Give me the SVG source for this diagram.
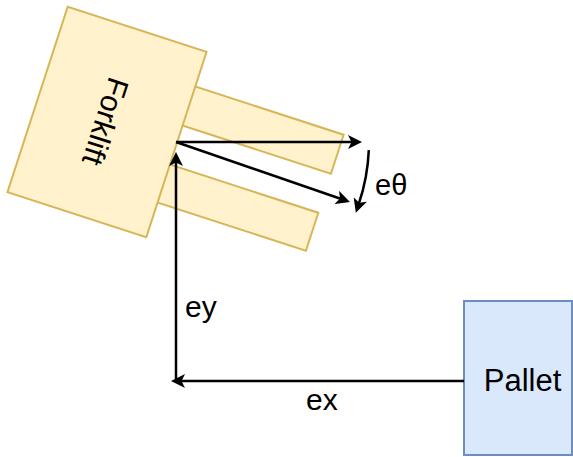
<svg xmlns="http://www.w3.org/2000/svg" width="573" height="457" viewBox="0 0 573 457">
  <style>
    .lbl { font-family: "Liberation Sans", Arial, sans-serif; fill: #000000; }
    .yellow { fill: #fff2cc; stroke: #d6b656; stroke-width: 2; }
    .blue { fill: #dae8fc; stroke: #6c8ebf; stroke-width: 2; }
    .edge { fill: none; stroke: #000000; stroke-width: 2.5; marker-end: url(#arrow); }
  </style>
  <defs>
    <!-- classic arrowhead; the line ends 10px short of the tip -->
    <marker id="arrow" viewBox="0 0 14 14" markerWidth="14" markerHeight="14" markerUnits="userSpaceOnUse" refX="4" refY="7" orient="auto">
      <path d="M0,0 L14,7 L0,14 L3.5,7 Z" fill="#000000"/>
    </marker>
  </defs>

  <rect width="573" height="457" fill="#ffffff"/>

  <!-- forklift: body and two forks, turned 18 degrees -->
  <g id="forklift" transform="translate(107,122) rotate(18)">
    <rect id="fork-upper" class="yellow" x="40" y="-61" width="189" height="41"/>
    <rect id="fork-lower" class="yellow" x="40" y="21" width="189" height="40"/>
    <rect id="body" class="yellow" x="-73" y="-97.5" width="146" height="195"/>
    <text class="lbl" font-size="30" text-anchor="middle" transform="rotate(90)" x="0" y="12">Forklift</text>
  </g>

  <!-- pallet -->
  <g id="pallet">
    <rect class="blue" x="464" y="301" width="108" height="154"/>
    <text class="lbl" font-size="31" text-anchor="middle" x="522.5" y="391">Pallet</text>
  </g>

  <!-- error vectors -->
  <g id="connectors">
    <path id="e-x" class="edge" d="M464,381 L181,381"/>
    <path id="e-y" class="edge" d="M176,382 L176,162"/>
    <path id="heading-ref" class="edge" d="M176,142 L352,142"/>
    <path id="heading" class="edge" d="M176,142 L340.5,198.7"/>
    <path id="e-theta" class="edge" d="M368.8,150.1 A193,193 0 0 1 359,203.2"/>
  </g>

  <!-- connector labels -->
  <g id="labels">
    <text class="lbl" font-size="30" x="185" y="317">ey</text>
    <text class="lbl" font-size="30" x="306" y="410">ex</text>
    <text class="lbl" font-size="29" x="375" y="195">eθ</text>
  </g>
</svg>
